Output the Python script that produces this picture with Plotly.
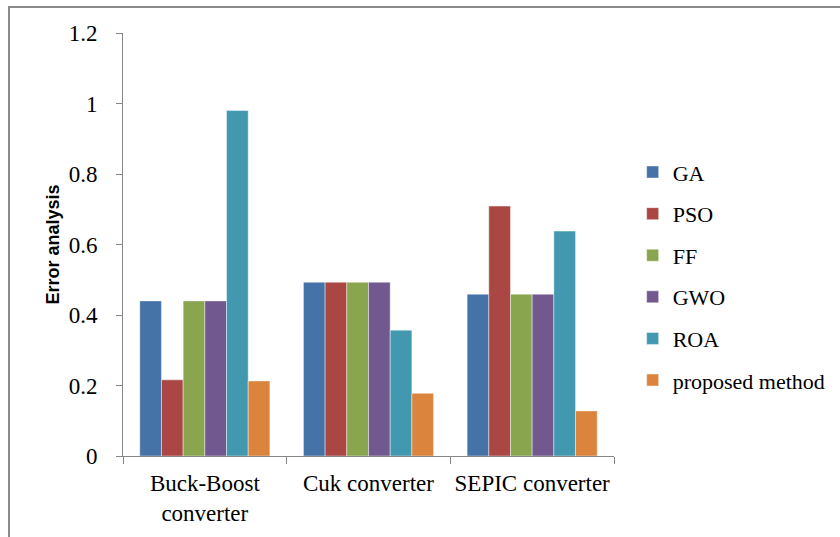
import plotly.graph_objects as go

categories = ["Buck-Boost<br>converter", "Cuk converter", "SEPIC converter"]
methods = ["GA", "PSO", "FF", "GWO", "ROA", "proposed method"]

ga = [0.44, 0.493, 0.459]
pso = [0.216, 0.493, 0.709]
ff = [0.44, 0.493, 0.459]
gwo = [0.44, 0.493, 0.459]
roa = [0.98, 0.357, 0.638]
proposed = [0.213, 0.178, 0.128]

series = [ga, pso, ff, gwo, roa, proposed]
colors = ["#4572A7", "#AA4643", "#89A54E", "#71588F", "#4198AF", "#DB843D"]

serif = "Liberation Serif"

fig = go.Figure()
for name, vals, col in zip(methods, series, colors):
    fig.add_trace(go.Bar(
        x=categories, y=vals, name=name, legendgroup=name,
        marker=dict(color=col, line=dict(color="rgba(255,255,255,0.55)", width=0.8)),
    ))

fig.update_layout(
    width=840, height=537,
    margin=dict(l=123, r=226, t=33, b=81, autoexpand=False),
    paper_bgcolor="white", plot_bgcolor="white",
    barmode="group", bargap=0.205, bargroupgap=0,
    font=dict(family=serif, size=22, color="#000000"),
    showlegend=True,
    legend=dict(
        x=1.038, xanchor="left", y=0.425, yanchor="middle",
        font=dict(family=serif, size=22, color="#000000"),
        tracegroupgap=10, itemwidth=30,
        bgcolor="rgba(0,0,0,0)",
    ),
    shapes=[dict(
        type="rect", xref="paper", yref="paper",
        x0=-0.2322, x1=1.8, y0=-0.6, y1=1.0615,
        line=dict(color="#8a8a8a", width=2), fillcolor="rgba(0,0,0,0)",
        layer="below",
    )],
)

fig.update_xaxes(
    showline=True, linecolor="#868686", linewidth=1,
    ticks="outside", tickson="boundaries", ticklen=7, tickcolor="#868686",
    showgrid=False, ticklabelstandoff=6, tickangle=0, automargin=False,
    tickfont=dict(family=serif, size=23),
)
fig.update_yaxes(
    range=[0, 1.2], dtick=0.2, tickformat="~g",
    showline=True, linecolor="#868686", linewidth=1,
    ticks="outside", ticklen=6, tickcolor="#868686",
    showgrid=False, zeroline=False, automargin=False,
    ticklabelstandoff=14,
    tickfont=dict(family=serif, size=23),
    title=dict(text="<b>Error analysis</b>", standoff=4,
               font=dict(family="Liberation Sans", size=18)),
)

fig.write_html("out.html")
